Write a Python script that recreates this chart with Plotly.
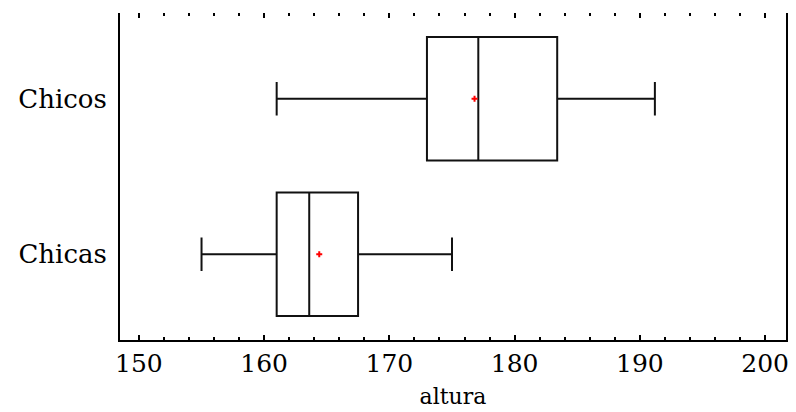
import plotly.graph_objects as go

groups = ["Chicas", "Chicos"]
lower_whisker = [155.0, 161.0]
q1 = [161.0, 173.0]
median = [163.6, 177.1]
q3 = [167.5, 183.4]
upper_whisker = [175.0, 191.2]
mean = [164.4, 176.8]

x_ticks = [150, 160, 170, 180, 190, 200]
x_title = "altura"

FONT = "DejaVu Serif"

fig = go.Figure()
fig.add_trace(go.Box(
    y=groups, q1=q1, median=median, q3=q3,
    lowerfence=lower_whisker, upperfence=upper_whisker,
    orientation="h", boxpoints=False,
    fillcolor="white", line=dict(color="#111111", width=2),
    width=0.795, whiskerwidth=0.27, showlegend=False, hoverinfo="skip",
))
fig.add_trace(go.Scatter(
    x=mean, y=groups, mode="markers", xaxis="x2",
    marker=dict(symbol="cross", size=5, color="red"),
    showlegend=False, hoverinfo="skip",
))

axis_common = dict(
    range=[148.49, 201.67], tickvals=x_ticks, ticks="inside",
    ticklen=5, tickwidth=2, tickcolor="black",
    minor=dict(dtick=2, ticks="inside", ticklen=3, tickwidth=2, tickcolor="black"),
    showgrid=False, zeroline=False,
)
fig.update_layout(
    width=796, height=412,
    margin=dict(l=120, r=7, t=13, b=71),
    paper_bgcolor="white", plot_bgcolor="white",
    font=dict(family=FONT, color="black", size=25),
    xaxis=dict(
        **axis_common,
        showline=True, linewidth=2, linecolor="black",
        ticktext=[str(v) for v in x_ticks],
        tickfont=dict(size=25),
        title=dict(text=x_title, font=dict(size=22), standoff=12),
    ),
    xaxis2=dict(
        **axis_common,
        overlaying="x", side="top", matches="x",
        showline=False, showticklabels=False,
    ),
    yaxis=dict(
        type="category", categoryarray=groups, range=[-0.551, 1.551],
        showline=True, linewidth=2, linecolor="black", mirror=True,
        ticks="", showgrid=False, zeroline=False,
        tickfont=dict(size=26), ticklabelstandoff=6,
    ),
)

fig.write_html("out.html", config={"displayModeBar": False},
               post_script="document.body.style.margin='0';")
